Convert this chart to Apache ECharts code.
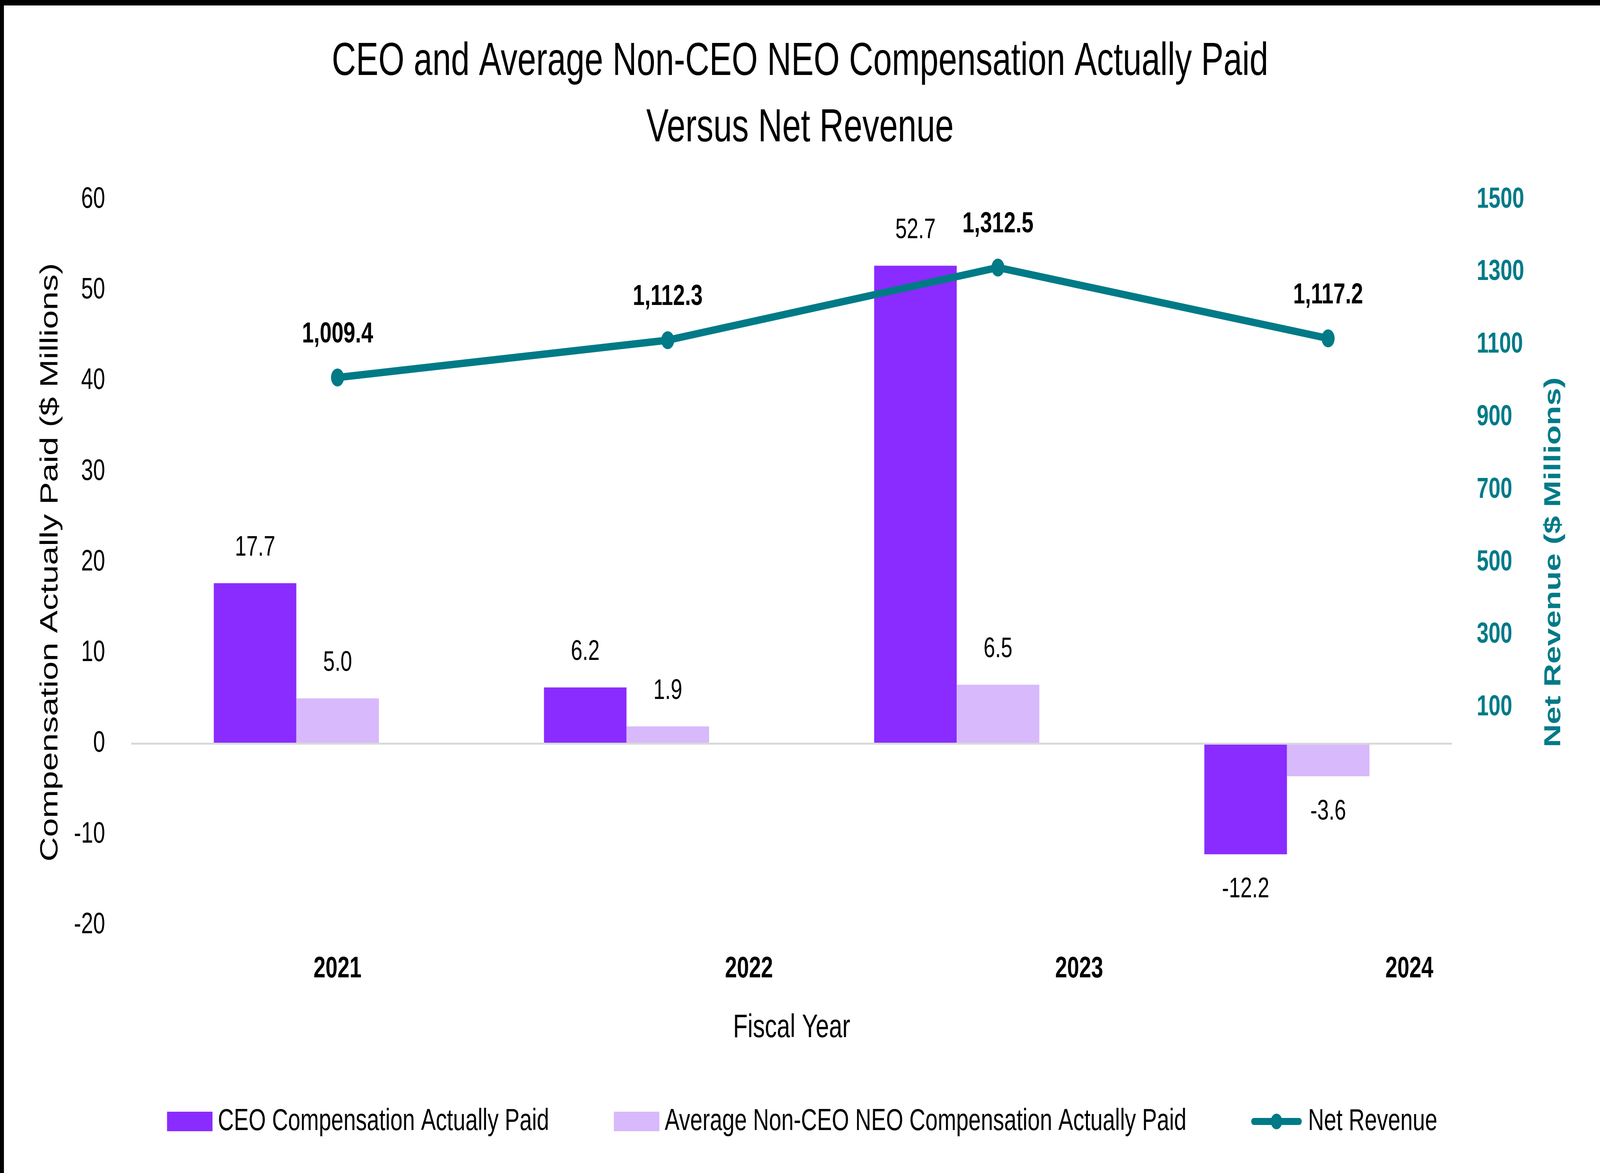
<!DOCTYPE html>
<html>
<head>
<meta charset="utf-8">
<script src="https://cdn.jsdelivr.net/npm/echarts@6/dist/echarts.min.js"></script>
<style>
  html, body { margin: 0; padding: 0; background: #fff; overflow: hidden; }
  #chart { width: 5633px; height: 3004px; transform-origin: 0 0; }
</style>
</head>
<body>
<div id="chart"></div>
<script>
// ---- data ----
const years = ['2021', '2022', '2023', '2024'];
const ceoPaid = [17.7, 6.2, 52.7, -12.2];
const neoAvgPaid = [5.0, 1.9, 6.5, -3.6];
const netRevenue = [1009.4, 1112.3, 1312.5, 1117.2];
const compAxis = { min: -20, max: 60, step: 10 };
const revenueAxis = { min: -500, max: 1500, step: 200 };

const W = 5633, H = 3004;
const FONT = '"Liberation Sans", Arial, sans-serif';
const TEAL = '#007A87';
const CEO_COLOR = '#8A2BFF';
const NEO_COLOR = '#D7B9FC';

// fit the fixed-size drawing into the actual viewport
(function fit() {
  const el = document.getElementById('chart');
  const vw = window.innerWidth || W, vh = window.innerHeight || H;
  const sx = vw / W, sy = vh / H;
  if (Math.abs(sx - 1) > 0.001 || Math.abs(sy - 1) > 0.001) {
    el.style.transform = 'scale(' + sx + ',' + sy + ')';
  }
})();

function barData(arr) {
  return arr.map(v => ({ value: v, label: { position: v < 0 ? 'bottom' : 'top' } }));
}

const chart = echarts.init(document.getElementById('chart'), null, { renderer: 'canvas', width: W, height: H });

const option = {
  animation: false,
  backgroundColor: '#ffffff',
  title: {
    text: 'CEO and Average Non-CEO NEO Compensation Actually Paid\nVersus Net Revenue',
    left: 'center',
    top: 74,
    padding: 0,
    textStyle: { fontFamily: FONT, fontSize: 118, fontWeight: 'normal', color: '#000', lineHeight: 170 }
  },
  legend: {
    left: 588,
    top: 2833,
    padding: 0,
    itemGap: 228,
    itemWidth: 160,
    itemHeight: 50,
    textStyle: { fontFamily: FONT, fontSize: 78, color: '#000', padding: [0, 0, 0, 14] },
    data: [
      { name: 'CEO Compensation Actually Paid', icon: 'rect' },
      { name: 'Average Non-CEO NEO Compensation Actually Paid', icon: 'rect',
        textStyle: { padding: [0, 22, 0, 14] } },
      { name: 'Net Revenue',
        lineStyle: { width: 18, color: TEAL, cap: 'round' },
        itemStyle: { color: TEAL, borderWidth: 0 },
        textStyle: { padding: [0, 0, 0, 26] } }
    ]
  },
  grid: [
    { left: 462, right: 521, top: 511, bottom: 635, containLabel: false },
    { left: 607, right: 376, top: 511, bottom: 635, containLabel: false }
  ],
  xAxis: [
    {
      type: 'category', gridIndex: 0, data: years,
      axisLine: { show: false, onZero: false }, axisTick: { show: false }, axisLabel: { show: false },
      splitLine: { show: false },
      name: 'Fiscal Year', nameLocation: 'middle', nameGap: 222,
      nameTextStyle: { fontFamily: FONT, fontSize: 84, color: '#000' }
    },
    {
      type: 'category', gridIndex: 1, data: years,
      axisLine: { show: false, onZero: false }, axisTick: { show: false }, splitLine: { show: false },
      axisLabel: {
        interval: 0, margin: 75, hideOverlap: false,
        formatter: (v, i) => (i === 0 ? '{a|' + v + '}' : '{b|' + v + '}'),
        rich: {
          a: { fontFamily: FONT, fontSize: 76, fontWeight: 'bold', color: '#000' },
          b: { fontFamily: FONT, fontSize: 76, fontWeight: 'bold', color: '#000', padding: [0, 0, 0, 572] }
        }
      }
    }
  ],
  yAxis: [
    {
      type: 'value', gridIndex: 0, position: 'left',
      min: compAxis.min, max: compAxis.max, interval: compAxis.step,
      axisLine: { show: false }, axisTick: { show: false }, splitLine: { show: false },
      axisLabel: { fontFamily: FONT, fontSize: 76, color: '#000', margin: 92 },
      name: 'Compensation Actually Paid ($ Millions)', nameLocation: 'middle', nameRotate: 90, nameGap: 240,
      nameTextStyle: { fontFamily: FONT, fontSize: 87, color: '#000' }
    },
    {
      type: 'value', gridIndex: 0, position: 'right',
      min: revenueAxis.min, max: revenueAxis.max, interval: revenueAxis.step,
      axisLine: { show: false }, axisTick: { show: false }, splitLine: { show: false },
      axisLabel: {
        fontFamily: FONT, fontSize: 75, fontWeight: 'bold', color: TEAL, margin: 87, align: 'left',
        formatter: v => (v < 0 ? '' : String(v))
      },
      name: 'Net Revenue ($ Millions)', nameLocation: 'middle', nameRotate: 90, nameGap: 317,
      nameTextStyle: { fontFamily: FONT, fontSize: 82, fontWeight: 'bold', color: TEAL }
    },
    {
      type: 'value', gridIndex: 1, show: false,
      min: revenueAxis.min, max: revenueAxis.max, interval: revenueAxis.step,
      splitLine: { show: false }
    }
  ],
  series: [
    {
      name: 'CEO Compensation Actually Paid', type: 'bar',
      xAxisIndex: 0, yAxisIndex: 0,
      data: barData(ceoPaid),
      barWidth: '25%', barGap: '0%',
      itemStyle: { color: CEO_COLOR },
      label: {
        show: true, distance: 54, fontFamily: FONT, fontSize: 73, color: '#000',
        formatter: p => Number(p.value).toFixed(1)
      },
      markLine: {
        silent: true, symbol: ['none', 'none'], label: { show: false },
        lineStyle: { color: '#D9D9D9', width: 5, type: 'solid' },
        emphasis: { disabled: true },
        data: [{ yAxis: 0 }]
      }
    },
    {
      name: 'Average Non-CEO NEO Compensation Actually Paid', type: 'bar',
      xAxisIndex: 0, yAxisIndex: 0,
      data: barData(neoAvgPaid),
      barWidth: '25%', barGap: '0%',
      itemStyle: { color: NEO_COLOR },
      label: {
        show: true, distance: 54, fontFamily: FONT, fontSize: 73, color: '#000',
        formatter: p => Number(p.value).toFixed(1)
      }
    },
    {
      name: 'Net Revenue', type: 'line',
      xAxisIndex: 1, yAxisIndex: 2,
      data: netRevenue,
      symbol: 'circle', symbolSize: 46,
      lineStyle: { color: TEAL, width: 19 },
      itemStyle: { color: TEAL },
      z: 5,
      label: {
        show: true, position: 'top', distance: 50,
        fontFamily: FONT, fontSize: 75, fontWeight: 'bold', color: '#000',
        formatter: p => Number(p.value).toLocaleString('en-US', { minimumFractionDigits: 1, maximumFractionDigits: 1 })
      }
    }
  ],
  graphic: [
    {
      type: 'rect', left: 0, top: 0, silent: true, z: 100,
      shape: { x: 0, y: 0, width: W, height: H },
      style: { fill: null, stroke: '#000', lineWidth: 14 }
    }
  ]
};

chart.setOption(option);
</script>
</body>
</html>
